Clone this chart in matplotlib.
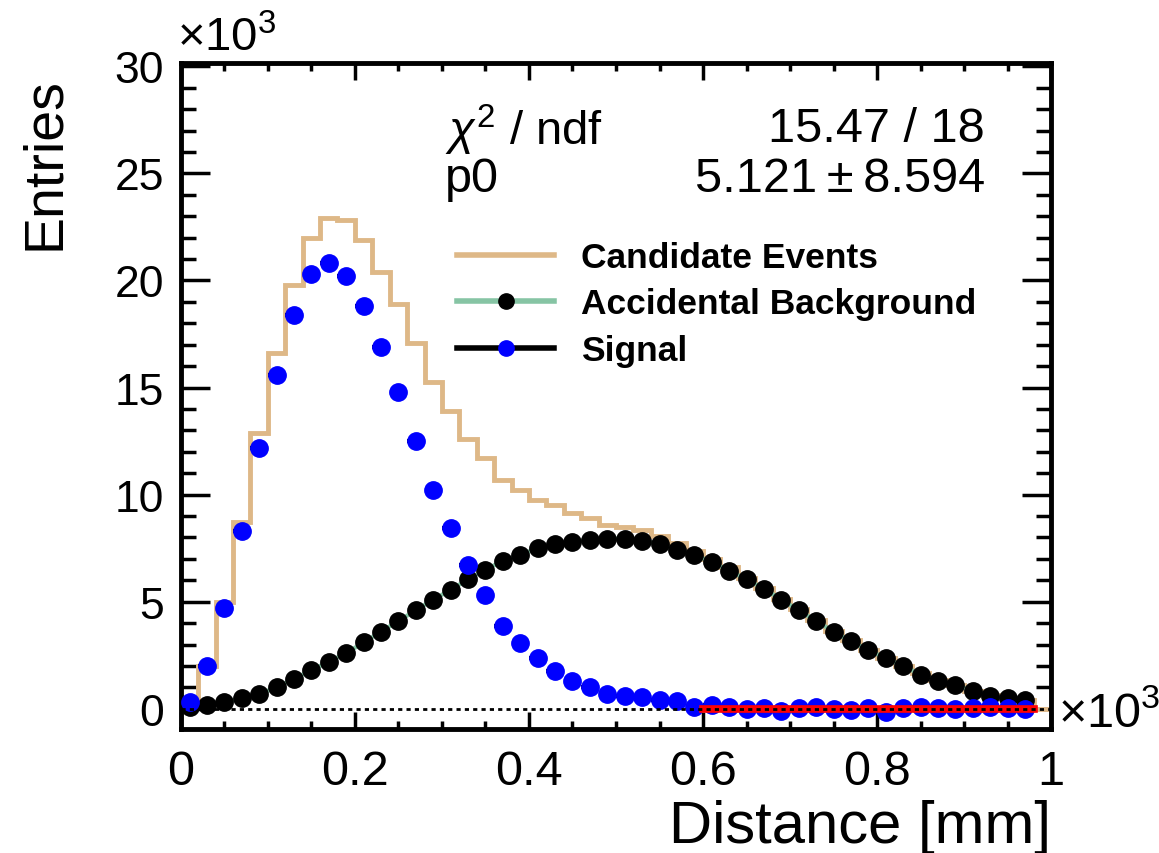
import numpy as np
import matplotlib.pyplot as plt
from matplotlib.lines import Line2D
from matplotlib.ticker import MultipleLocator

plt.rcParams['font.family'] = ['Liberation Sans', 'DejaVu Sans']
plt.rcParams['mathtext.fontset'] = 'custom'
plt.rcParams['mathtext.rm'] = 'Liberation Sans'
plt.rcParams['mathtext.it'] = 'Liberation Sans:italic'

# distance in units of 10^3 mm, entries in units of 10^3
bin_edges = np.linspace(0.0, 1.0, 51)
candidate = [0.4, 2.0, 5.0, 8.7, 12.9, 16.6, 19.8, 22.0, 22.9, 22.8,
             21.9, 20.4, 18.9, 17.1, 15.25, 13.9, 12.6, 11.7, 10.7, 10.2,
             9.75, 9.5, 9.15, 8.9, 8.6, 8.5, 8.35, 8.05, 7.75, 7.35,
             7.0, 6.6, 6.1, 5.65, 5.15, 4.65, 4.15, 3.65, 3.2, 2.75,
             2.35, 2.0, 1.65, 1.35, 1.1, 0.85, 0.65, 0.5, 0.4, 0.0]

centers = [0.01, 0.03, 0.05, 0.07, 0.09, 0.11, 0.13, 0.15, 0.17, 0.19,
           0.21, 0.23, 0.25, 0.27, 0.29, 0.31, 0.33, 0.35, 0.37, 0.39,
           0.41, 0.43, 0.45, 0.47, 0.49, 0.51, 0.53, 0.55, 0.57, 0.59,
           0.61, 0.63, 0.65, 0.67, 0.69, 0.71, 0.73, 0.75, 0.77, 0.79,
           0.81, 0.83, 0.85, 0.87, 0.89, 0.91, 0.93, 0.95, 0.97]
accidental = [0.1, 0.2, 0.3, 0.5, 0.7, 1.0, 1.4, 1.8, 2.2, 2.6,
              3.1, 3.6, 4.1, 4.6, 5.1, 5.55, 6.05, 6.5, 6.9, 7.2,
              7.5, 7.7, 7.8, 7.9, 7.95, 7.95, 7.85, 7.7, 7.4, 7.2,
              6.85, 6.45, 6.05, 5.6, 5.1, 4.6, 4.1, 3.6, 3.15, 2.75,
              2.35, 2.0, 1.6, 1.3, 1.1, 0.85, 0.6, 0.5, 0.4]
signal = [0.3, 2.0, 4.7, 8.3, 12.2, 15.6, 18.4, 20.3, 20.8, 20.2,
          18.8, 16.9, 14.8, 12.5, 10.2, 8.45, 6.7, 5.3, 3.85, 3.05,
          2.35, 1.75, 1.3, 1.0, 0.7, 0.6, 0.55, 0.4, 0.35, 0.1,
          0.2, 0.1, 0.0, 0.05, -0.1, 0.05, 0.1, 0.0, -0.05, 0.05,
          -0.15, 0.05, 0.1, 0.05, 0.0, 0.05, 0.1, 0.05, 0.0]

fit_range = [0.6, 0.98]
fit_p0 = 5.121e-3

TAN = '#deb887'
GREEN = '#86c4a4'

fig = plt.figure(figsize=(11.59, 8.54), dpi=100)
ax = fig.add_axes([0.156, 0.145, 0.751, 0.78])

ax.stairs(candidate, bin_edges, color=TAN, lw=3.5, zorder=2)
ax.plot(centers, accidental, color=GREEN, lw=3, marker='o', ms=12.5,
        mfc='k', mec='k', zorder=3)
ax.errorbar(centers, signal, xerr=0.01, fmt='o', ms=12.5, mfc='blue',
            mec='blue', ecolor='k', elinewidth=3, capsize=0, zorder=4)
ax.plot(fit_range, [fit_p0, fit_p0], color='red', lw=5.5, zorder=5)
ax.axhline(0, color='k', lw=2, ls=(0, (1.5, 1.5)), zorder=6)

ax.set_xlim(0, 1)
ax.set_ylim(-0.95, 30.15)
ax.xaxis.set_major_locator(MultipleLocator(0.2))
ax.xaxis.set_minor_locator(MultipleLocator(0.05))
ax.yaxis.set_major_locator(MultipleLocator(5))
ax.yaxis.set_minor_locator(MultipleLocator(1))
ax.set_xticks([0, 0.2, 0.4, 0.6, 0.8, 1.0], ['0', '0.2', '0.4', '0.6', '0.8', '1'])

for s in ax.spines.values():
    s.set_linewidth(3.5)
ax.tick_params(axis='both', which='both', direction='in', top=True, right=True, width=2.5)
ax.tick_params(axis='x', which='major', length=12, labelsize=35, pad=14)
ax.tick_params(axis='x', which='minor', length=6)
ax.tick_params(axis='y', which='major', length=21, labelsize=32, pad=12)
ax.tick_params(axis='y', which='minor', length=11)

ax.set_xlabel('Distance [mm]', fontsize=43, loc='right')
ax.xaxis.set_label_coords(1.0, -0.105)
ax.set_ylabel('Entries', fontsize=40, loc='top')
ax.yaxis.set_label_coords(-0.126, 0.98)

fig.text(177 / 1159, 1 - 51 / 854, r'$\times$10$^3$', fontsize=34, ha='left', va='baseline')
fig.text(1058 / 1159, 1 - 727 / 854, r'$\times$10$^3$', fontsize=35, ha='left', va='baseline')

# fit statistics box
fig.text(445 / 1159, 1 - 130 / 854, r'$\chi^2$ / ndf', fontsize=34, ha='left', va='center')
fig.text(985 / 1159, 1 - 130 / 854, '15.47 / 18', fontsize=35, ha='right', va='center')
fig.text(445 / 1159, 1 - 180 / 854, 'p0', fontsize=35, ha='left', va='center')
fig.text(985 / 1159, 1 - 180 / 854, '5.121\u2009\u00b1\u20098.594', fontsize=35, ha='right', va='center')

handles = [
    Line2D([], [], color=TAN, lw=4),
    Line2D([], [], color=GREEN, lw=4, marker='o', ms=11, mfc='k', mec='k'),
    Line2D([], [], color='k', lw=4, marker='o', ms=11, mfc='blue', mec='blue'),
]
labels = ['Candidate Events', 'Accidental Background', 'Signal']
fig.legend(handles, labels, loc='upper left', bbox_to_anchor=(457 / 1159, 1 - 242 / 854),
           frameon=False, prop={'weight': 'bold', 'size': 25.5}, handlelength=2.75,
           handletextpad=0.75, labelspacing=0.38, borderpad=0, borderaxespad=0)

fig.savefig('out.png', dpi=100)
